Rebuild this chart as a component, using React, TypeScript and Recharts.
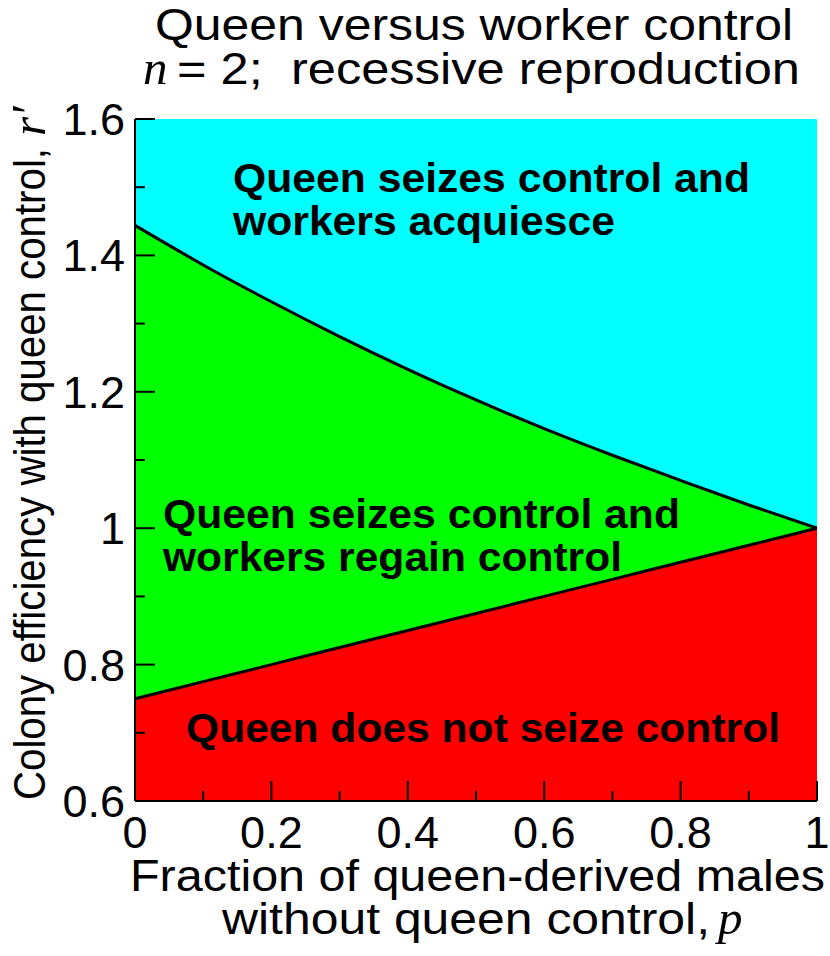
import React from 'react';
import { ComposedChart, Area, Line, XAxis, YAxis } from 'recharts';

// boundary curves, p = 0 .. 1
const pGrid = [0, 0.1, 0.2, 0.3, 0.4, 0.5, 0.6, 0.7, 0.8, 0.9, 1];
const upperBoundary = [1.444, 1.386, 1.332, 1.281, 1.233, 1.188, 1.146, 1.107, 1.07, 1.034, 1.0];
const lowerBoundary = [0.75, 0.775, 0.8, 0.825, 0.85, 0.875, 0.9, 0.925, 0.95, 0.975, 1.0];

const xTicks = [0, 0.1, 0.2, 0.3, 0.4, 0.5, 0.6, 0.7, 0.8, 0.9, 1];
const yTicks = [0.6, 0.7, 0.8, 0.9, 1, 1.1, 1.2, 1.3, 1.4, 1.5, 1.6];
const Y_MIN = 0.6;
const Y_MAX = 1.6;

const regionLabels = [
  'Queen seizes control and', 'workers acquiesce',
  'Queen seizes control and', 'workers regain control',
  'Queen does not seize control',
];

const data = pGrid.map((p, i) => ({
  p,
  lower: lowerBoundary[i],
  upper: upperBoundary[i],
  noSeize: [Y_MIN, lowerBoundary[i]],
  regain: [lowerBoundary[i], upperBoundary[i]],
  acquiesce: [upperBoundary[i], Y_MAX],
}));

const SANS = '"Liberation Sans", Arial, Helvetica, sans-serif';
const SERIF = '"Liberation Serif", "Times New Roman", serif';
const FS = 45;

const isMajor = (v: number) => Math.round(v * 10) % 2 === 0;
const fmt = (v: number) => String(Number(v.toFixed(1)));

function makeTick(side: 'bottom' | 'left' | 'top' | 'right') {
  return (props: any) => {
    const { x, y, payload } = props;
    const v = payload.value;
    const len = isMajor(v) ? 20 : 10;
    const line =
      side === 'bottom' ? <line x1={x} y1={y} x2={x} y2={y - len} /> :
      side === 'top' ? <line x1={x} y1={y} x2={x} y2={y + len} /> :
      side === 'left' ? <line x1={x} y1={y} x2={x + len} y2={y} /> :
      <line x1={x} y1={y} x2={x - len} y2={y} />;
    return (
      <g>
        <g stroke="#000" strokeWidth={2}>{line}</g>
        {side === 'bottom' && isMajor(v) && (
          <text x={x} y={y + 47} textAnchor="middle" fontFamily={SANS} fontSize={FS} fill="#000">{fmt(v)}</text>
        )}
        {side === 'left' && isMajor(v) && (
          <text x={x - 10} y={y + 16} textAnchor="end" fontFamily={SANS} fontSize={FS} fill="#000">{fmt(v)}</text>
        )}
      </g>
    );
  };
}

const axisLine = { stroke: '#000', strokeWidth: 2 };
const boldText = { fontFamily: SANS, fontSize: 40, fontWeight: 700, fill: '#000' } as const;
const plainText = { fontFamily: SANS, fontSize: FS, fill: '#000' } as const;
const italicText = { fontFamily: SERIF, fontSize: FS + 4, fontStyle: 'italic', fill: '#000' } as const;

export default function App() {
  return (
    <div style={{ position: 'absolute', left: 0, top: 0, width: 830, height: 956, background: '#fff' }}>
      <ComposedChart width={830} height={956} data={data} margin={{ top: 119, right: 13, bottom: 0, left: 0 }}>
        <XAxis dataKey="p" type="number" domain={[0, 1]} ticks={xTicks} interval={0} height={155}
          tickSize={0} tickMargin={0} tickLine={false} axisLine={axisLine} tick={makeTick('bottom')} />
        <XAxis xAxisId="top" orientation="top" dataKey="p" type="number" domain={[0, 1]} ticks={xTicks} interval={0} height={0}
          tickSize={0} tickMargin={0} tickLine={false} axisLine={axisLine} tick={makeTick('top')} />
        <YAxis type="number" domain={[Y_MIN, Y_MAX]} ticks={yTicks} interval={0} width={135}
          tickSize={0} tickMargin={0} tickLine={false} axisLine={axisLine} tick={makeTick('left')} />
        <YAxis yAxisId="right" orientation="right" type="number" domain={[Y_MIN, Y_MAX]} ticks={yTicks} interval={0} width={0}
          tickSize={0} tickMargin={0} tickLine={false} axisLine={axisLine} tick={makeTick('right')} />

        <Area dataKey="noSeize" type="monotone" fill="#ff0000" fillOpacity={1} stroke="none" isAnimationActive={false} />
        <Area dataKey="regain" type="monotone" fill="#00ff00" fillOpacity={1} stroke="none" isAnimationActive={false} />
        <Area dataKey="acquiesce" type="monotone" fill="#00ffff" fillOpacity={1} stroke="none" isAnimationActive={false} />
        <Line dataKey="upper" type="monotone" stroke="#000" strokeWidth={3} dot={false} activeDot={false} isAnimationActive={false} />
        <Line dataKey="lower" type="monotone" stroke="#000" strokeWidth={3} dot={false} activeDot={false} isAnimationActive={false} />

        {/* title */}
        <text x={155} y={40} textLength={638} lengthAdjust="spacingAndGlyphs" {...plainText}>Queen versus worker control</text>
        <text x={143} y={84} {...italicText}>n</text>
        <text x={177} y={84} textLength={623} lengthAdjust="spacingAndGlyphs" {...plainText}>{'= 2;\u00A0 recessive reproduction'}</text>

        {/* x axis title */}
        <text x={130} y={891} textLength={695} lengthAdjust="spacingAndGlyphs" {...plainText}>Fraction of queen-derived males</text>
        <text x={222} y={934} textLength={488} lengthAdjust="spacingAndGlyphs" {...plainText}>without queen control,</text>
        <text x={718} y={934} {...italicText}>p</text>

        {/* y axis title */}
        <text transform="translate(45, 800) rotate(-90)" textLength={652} lengthAdjust="spacingAndGlyphs" {...plainText}>Colony efficiency with queen control,</text>
        <text transform="translate(45, 136) rotate(-90)" {...italicText}>{'r\u2032'}</text>
      </ComposedChart>

      {/* region labels sit above the filled areas */}
      <svg width={830} height={956} style={{ position: 'absolute', left: 0, top: 0, pointerEvents: 'none' }}>
        <text x={233} y={192} textLength={517} lengthAdjust="spacingAndGlyphs" {...boldText}>{regionLabels[0]}</text>
        <text x={233} y={235} textLength={382} lengthAdjust="spacingAndGlyphs" {...boldText}>{regionLabels[1]}</text>
        <text x={163} y={528} textLength={517} lengthAdjust="spacingAndGlyphs" {...boldText}>{regionLabels[2]}</text>
        <text x={163} y={571} textLength={459} lengthAdjust="spacingAndGlyphs" {...boldText}>{regionLabels[3]}</text>
        <text x={186} y={742} textLength={594} lengthAdjust="spacingAndGlyphs" {...boldText}>{regionLabels[4]}</text>
      </svg>
    </div>
  );
}
